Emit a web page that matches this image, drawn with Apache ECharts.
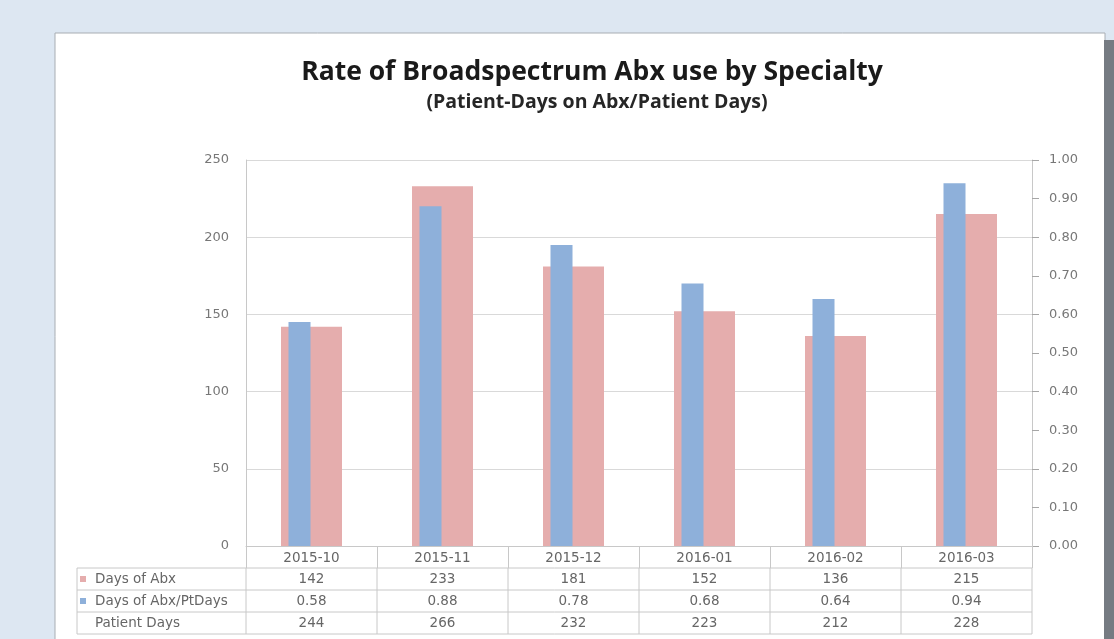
<!DOCTYPE html>
<html>
<head>
<meta charset="utf-8">
<script src="https://cdn.jsdelivr.net/npm/echarts@6/dist/echarts.min.js"></script>
<style>
  html, body { margin: 0; padding: 0; background: #dde7f2; }
  #main { width: 1114px; height: 639px; }
</style>
</head>
<body>
<div id="main"></div>
<script>
var months = ['2015-10', '2015-11', '2015-12', '2016-01', '2016-02', '2016-03'];
var daysOfAbx = [142, 233, 181, 152, 136, 215];
var abxPerPtDays = [0.58, 0.88, 0.78, 0.68, 0.64, 0.94];
var patientDays = [244, 266, 232, 223, 212, 228];
var rowNames = ['Days of Abx', 'Days of Abx/PtDays', 'Patient Days'];

var pink = '#e5adad';
var blue = '#8eb0da';
var lineCol = '#c8c8c8';
var txtCol = '#666666';
var font = 'DejaVu Sans';
var titleFont = 'Open Sans';

var chart = echarts.init(document.getElementById('main'));

chart.setOption({
  backgroundColor: '#dde7f2',
  animation: false,
  grid: { left: 246, right: 82, top: 160, bottom: 93 },
  xAxis: [
    {
      type: 'category',
      data: months,
      axisLine: { lineStyle: { color: lineCol } },
      axisTick: { show: true, interval: 0, length: 22, lineStyle: { color: lineCol } },
      axisLabel: { color: txtCol, fontSize: 13.5, fontFamily: font, margin: 5 }
    },
    { type: 'category', data: months, show: false }
  ],
  yAxis: [
    {
      type: 'value', min: 0, max: 250, interval: 50,
      axisLine: { show: true, lineStyle: { color: lineCol } },
      axisTick: { show: false },
      splitLine: { lineStyle: { color: '#d9d9d9' } },
      axisLabel: { color: '#777777', fontSize: 13, fontFamily: font, margin: 17 }
    },
    {
      type: 'value', min: 0, max: 1, interval: 0.1, position: 'right',
      axisLine: { show: true, lineStyle: { color: lineCol } },
      axisTick: { show: true, length: 7, lineStyle: { color: '#a6a6a6' } },
      splitLine: { show: false },
      axisLabel: {
        color: '#777777', fontSize: 13, fontFamily: font, margin: 17,
        formatter: function (v) { return v.toFixed(2); }
      }
    }
  ],
  series: [
    {
      name: 'Days of Abx', type: 'bar', xAxisIndex: 0, yAxisIndex: 0,
      data: daysOfAbx, barWidth: 61, itemStyle: { color: pink }, z: 2
    },
    {
      name: 'Days of Abx/PtDays', type: 'bar', xAxisIndex: 1, yAxisIndex: 1,
      data: abxPerPtDays, barWidth: 22, barGap: 0, itemStyle: { color: blue }, z: 3
    },
    {
      // empty spacer so the blue bar sits left of the category centre
      name: 'spacer', type: 'bar', xAxisIndex: 1, yAxisIndex: 1,
      data: [], barWidth: 24, barGap: 0, silent: true, itemStyle: { color: 'transparent' }
    }
  ]
});

// data table under the plot, placed from the category axis
var c0 = chart.convertToPixel({ xAxisIndex: 0 }, months[0]);
var c1 = chart.convertToPixel({ xAxisIndex: 0 }, months[1]);
var band = c1 - c0;
var tLeft = c0 - band / 2;
var tRight = tLeft + band * months.length;
var y0 = chart.convertToPixel({ yAxisIndex: 0 }, 0);
var rowH = 22;
var boxLeft = 77;
var rows = [daysOfAbx, abxPerPtDays.map(function (v) { return v.toFixed(2); }), patientDays];
var keys = [pink, blue, null];

var g = [];
// panel
g.push({ type: 'rect', z: -10, shape: { x: 55, y: 33, width: 1050, height: 620 },
  style: { fill: '#ffffff', stroke: '#a8adb3', lineWidth: 1 } });
g.push({ type: 'rect', z: -10, shape: { x: 1104, y: 40, width: 10, height: 600 },
  style: { fill: '#767b82' } });
// titles
g.push({ type: 'text', x: 592, y: 72, style: { text: 'Rate of Broadspectrum Abx use by Specialty',
  fontFamily: titleFont, fontWeight: 'bold', fontSize: 26.5, fill: '#1a1a1a', align: 'center', verticalAlign: 'middle' } });
g.push({ type: 'text', x: 597, y: 102, style: { text: '(Patient-Days on Abx/Patient Days)',
  fontFamily: titleFont, fontWeight: 'bold', fontSize: 19.5, fill: '#262626', align: 'center', verticalAlign: 'middle' } });

// horizontal rules
for (var r = 1; r <= 4; r++) {
  g.push({ type: 'line', shape: { x1: boxLeft, y1: y0 + rowH * r, x2: tRight, y2: y0 + rowH * r },
    style: { stroke: lineCol, lineWidth: 1 } });
}
// vertical rules
g.push({ type: 'line', shape: { x1: boxLeft, y1: y0 + rowH, x2: boxLeft, y2: y0 + rowH * 4 },
  style: { stroke: lineCol, lineWidth: 1 } });
for (var k = 0; k <= months.length; k++) {
  var xb = tLeft + band * k;
  g.push({ type: 'line', shape: { x1: xb, y1: y0 + rowH, x2: xb, y2: y0 + rowH * 4 },
    style: { stroke: lineCol, lineWidth: 1 } });
}
// row headers and values
rows.forEach(function (vals, i) {
  var yc = y0 + rowH * (i + 1) + rowH / 2;
  if (keys[i]) {
    g.push({ type: 'rect', shape: { x: 80, y: yc - 3, width: 6, height: 6 }, style: { fill: keys[i] } });
  }
  g.push({ type: 'text', x: 95, y: yc, style: { text: rowNames[i], fontFamily: font, fontSize: 13.5,
    fill: txtCol, align: 'left', verticalAlign: 'middle' } });
  vals.forEach(function (v, j) {
    g.push({ type: 'text', x: chart.convertToPixel({ xAxisIndex: 0 }, months[j]), y: yc,
      style: { text: String(v), fontFamily: font, fontSize: 13.5, fill: txtCol, align: 'center', verticalAlign: 'middle' } });
  });
});

chart.setOption({ graphic: g });
</script>
</body>
</html>
